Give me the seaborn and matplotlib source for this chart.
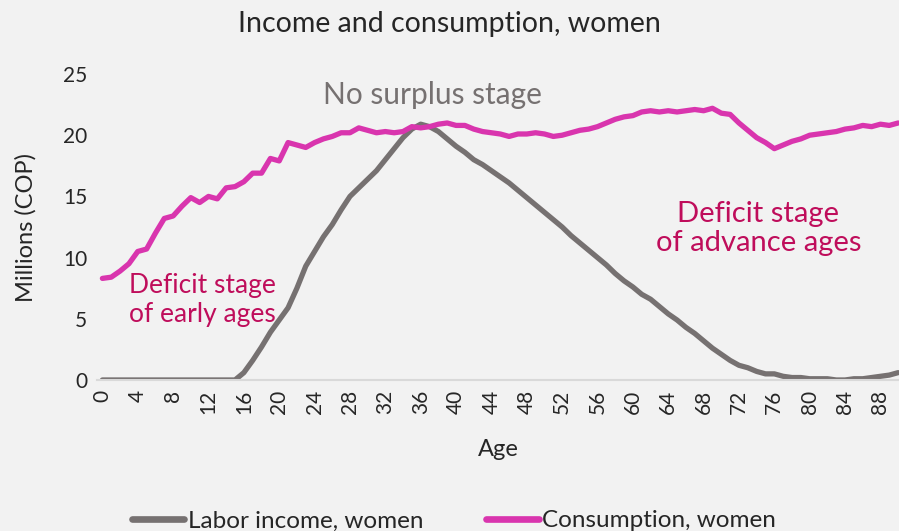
"""
Income and consumption by age, women (Colombia, millions COP).
"""

import numpy as np
import pandas as pd
import matplotlib.pyplot as plt
import seaborn as sns

ages = list(range(0, 91))

labor_income = [
    0.0, 0.0, 0.0, 0.0, 0.0, 0.0, 0.0, 0.0, 0.0, 0.0,
    0.0, 0.0, 0.0, 0.0, 0.0, 0.0, 0.6, 1.6, 2.7, 3.9,
    4.9, 5.9, 7.5, 9.3, 10.5, 11.7, 12.7, 13.9, 15.0, 15.7,
    16.4, 17.1, 18.0, 18.9, 19.8, 20.5, 20.9, 20.7, 20.3, 19.7,
    19.1, 18.6, 18.0, 17.6, 17.1, 16.6, 16.1, 15.5, 14.9, 14.3,
    13.7, 13.1, 12.5, 11.8, 11.2, 10.6, 10.0, 9.4, 8.7, 8.1,
    7.6, 7.0, 6.6, 6.0, 5.4, 4.9, 4.3, 3.8, 3.2, 2.6,
    2.1, 1.6, 1.2, 1.0, 0.7, 0.5, 0.5, 0.3, 0.2, 0.2,
    0.1, 0.1, 0.1, 0.0, 0.0, 0.1, 0.1, 0.2, 0.3, 0.4,
    0.6,
]

consumption = [
    8.3, 8.4, 8.9, 9.5, 10.5, 10.7, 12.0, 13.2, 13.4, 14.2,
    14.9, 14.5, 15.0, 14.8, 15.7, 15.8, 16.2, 16.9, 16.9, 18.1,
    17.9, 19.4, 19.2, 19.0, 19.4, 19.7, 19.9, 20.2, 20.2, 20.6,
    20.4, 20.2, 20.3, 20.2, 20.3, 20.7, 20.6, 20.7, 20.9, 21.0,
    20.8, 20.8, 20.5, 20.3, 20.2, 20.1, 19.9, 20.1, 20.1, 20.2,
    20.1, 19.9, 20.0, 20.2, 20.4, 20.5, 20.7, 21.0, 21.3, 21.5,
    21.6, 21.9, 22.0, 21.9, 22.0, 21.9, 22.0, 22.1, 22.0, 22.2,
    21.8, 21.7, 21.0, 20.4, 19.8, 19.4, 18.9, 19.2, 19.5, 19.7,
    20.0, 20.1, 20.2, 20.3, 20.5, 20.6, 20.8, 20.7, 20.9, 20.8,
    21.0,
]

series_names = ["Labor income, women", "Consumption, women"]
x_ticks = list(range(0, 91, 4))
y_ticks = [0, 5, 10, 15, 20, 25]

GRAY = "#767171"
MAGENTA = "#D935AE"
CRIMSON = "#BF0D5B"
BG = "#F2F2F2"
TXT = "#262626"

df = pd.DataFrame({
    "Age": ages * 2,
    "Value": labor_income + consumption,
    "Series": [series_names[0]] * len(ages) + [series_names[1]] * len(ages),
})

sns.set_theme(style="white")
plt.rcParams["font.family"] = ["Lato", "DejaVu Sans"]

fig = plt.figure(figsize=(8.99, 5.31), dpi=100, facecolor=BG)
ax = fig.add_axes([0.108, 0.2844, 0.892, 0.5762], facecolor=BG)

sns.lineplot(
    data=df, x="Age", y="Value", hue="Series",
    palette=[GRAY, MAGENTA], linewidth=3.8, ax=ax, legend=False,
)

ax.set_xlim(-0.6, 90.1)
ax.set_ylim(0, 25)
ax.set_xticks(x_ticks)
ax.set_xticklabels([str(t) for t in x_ticks], rotation=90, fontsize=15, color=TXT)
ax.set_yticks(y_ticks)
ax.set_yticklabels([str(t) for t in y_ticks], fontsize=15, color=TXT)
ax.tick_params(axis="both", length=0, pad=7)
ax.set_xlabel("Age", fontsize=17, color=TXT, labelpad=18)
ax.set_ylabel("Millions (COP)", fontsize=17, color=TXT, labelpad=19)

for side in ["top", "right", "left"]:
    ax.spines[side].set_visible(False)
ax.spines["bottom"].set_color("#D9D9D9")
ax.spines["bottom"].set_linewidth(1.5)

fig.text(0.5, 0.955, "Income and consumption, women", ha="center", va="center",
         fontsize=20.5, color=TXT)

ax.text(37.3, 23.3, "No surplus stage", ha="center", va="center",
        fontsize=21.5, color=GRAY)
ax.text(3.0, 6.5, "Deficit stage\nof early ages", ha="left", va="center",
        fontsize=19, color=CRIMSON, linespacing=1.2)
ax.text(74.2, 12.4, "Deficit stage\nof advance ages", ha="center", va="center",
        fontsize=21, color=CRIMSON, linespacing=1.15)

handles = [
    plt.Line2D([0], [0], color=GRAY, lw=4.8),
    plt.Line2D([0], [0], color=MAGENTA, lw=4.8),
]
fig.legend(handles, series_names, loc="lower center", ncol=2, frameon=False,
           fontsize=17.5, bbox_to_anchor=(0.505, -0.042), handlelength=2.15,
           handletextpad=0.15, columnspacing=2.6, labelcolor=TXT)

fig.savefig("out.png", dpi=100, facecolor=BG)
plt.close(fig)
